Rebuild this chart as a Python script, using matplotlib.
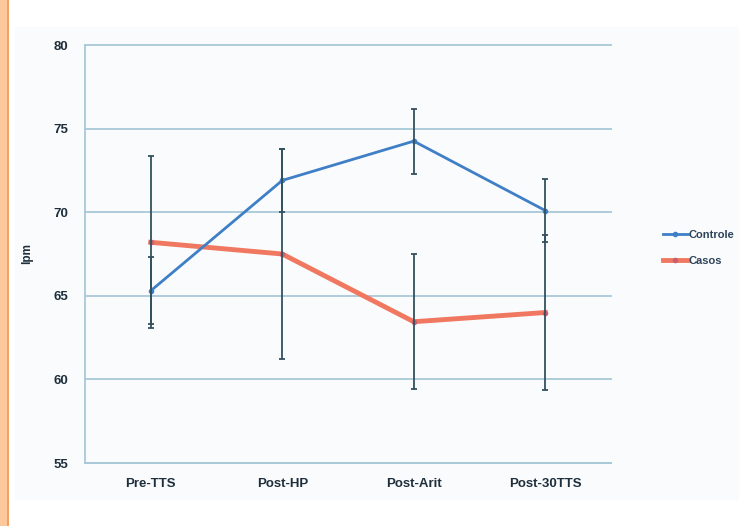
import numpy as np
import matplotlib.pyplot as plt
from matplotlib.patches import Rectangle

# heart rate (lpm) at each stage, mean and standard deviation
stages = ["Pre-TTS", "Post-HP", "Post-Arit", "Post-30TTS"]
controle_mean = [65.3, 71.9, 74.25, 70.1]
controle_sd = [2.0, 1.9, 1.95, 1.9]
casos_mean = [68.2, 67.5, 63.45, 64.0]
casos_sd = [5.15, 6.3, 4.05, 4.65]

blue = "#3f7fc6"
red = "#f07860"
bar_col = "#34505e"
grid_col = "#a9c9d9"

plt.rcParams["font.family"] = ["Liberation Sans Narrow", "Liberation Sans", "DejaVu Sans"]

fig = plt.figure(figsize=(7.39, 5.26), dpi=100)
fig.patch.set_facecolor("white")

# page decoration: orange margin strip and light panel behind the chart
fig.patches.append(Rectangle((0, 0), 7 / 739, 1, transform=fig.transFigure,
                             facecolor="#fcc89c", edgecolor="none", zorder=-10))
fig.patches.append(Rectangle((7 / 739, 0), 1.5 / 739, 1, transform=fig.transFigure,
                             facecolor="#f3a063", edgecolor="none", zorder=-10))
fig.patches.append(Rectangle((15 / 739, 26 / 526), 1, 473 / 526, transform=fig.transFigure,
                             facecolor="#fafbfd", edgecolor="none", zorder=-10))

ax = fig.add_axes([85 / 739, 63 / 526, 526 / 739, 418 / 526])
ax.set_facecolor("none")

x = np.arange(len(stages))
ax.plot(x, controle_mean, color=blue, lw=2, marker="o", ms=3, label="Controle", zorder=3)
ax.plot(x, casos_mean, color=red, lw=3.5, marker="o", ms=3, mfc="#c86070", mec="#c86070",
        label="Casos", zorder=2)
ax.errorbar(x, controle_mean, yerr=controle_sd, fmt="none", ecolor=bar_col,
            elinewidth=1.3, capsize=2.5, capthick=1.3, zorder=4)
ax.errorbar(x, casos_mean, yerr=casos_sd, fmt="none", ecolor=bar_col,
            elinewidth=1.3, capsize=2.5, capthick=1.3, zorder=4)

ax.set_xlim(-0.5, len(stages) - 0.5)
ax.set_ylim(55, 80)
ax.set_yticks(np.arange(55, 81, 5))
ax.set_xticks(x)
ax.set_xticklabels(stages)
ax.yaxis.grid(True, color=grid_col, lw=1.3, clip_on=False)
ax.set_axisbelow(True)
for side in ["top", "right"]:
    ax.spines[side].set_visible(False)
for side in ["left", "bottom"]:
    ax.spines[side].set_color(grid_col)
    ax.spines[side].set_linewidth(1.3)
ax.tick_params(length=0, pad=11, labelsize=9.5, labelcolor="#1e2e3a")
for lab in ax.get_xticklabels() + ax.get_yticklabels():
    lab.set_fontweight("bold")
ax.tick_params(axis="y", pad=12)
ax.set_ylabel("lpm", fontsize=8.5, fontweight="bold", color="#1e2e3a")
ax.yaxis.set_label_coords(-0.098, 0.5)

leg = ax.legend(loc="center left", bbox_to_anchor=(1.08, 0.515), frameon=False,
                fontsize=8, handlelength=2.2, handletextpad=0.1, labelspacing=1.4)
for t in leg.get_texts():
    t.set_color("#2e4458")
    t.set_fontweight("bold")

fig.savefig("out.png", dpi=100)
